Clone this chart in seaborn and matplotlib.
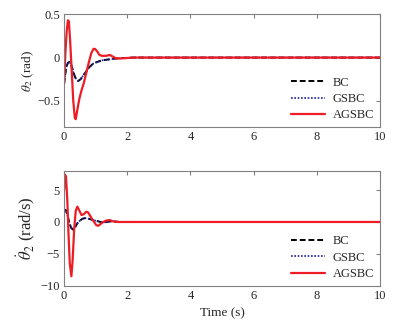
import matplotlib
matplotlib.use("Agg")
import matplotlib.pyplot as plt
import seaborn as sns
import numpy as np

# ---- data ----
t_bc1 = [0, 0.04, 0.08, 0.12, 0.17, 0.22, 0.28, 0.34, 0.40, 0.45, 0.52, 0.60, 0.70, 0.80, 0.92, 1.05, 1.23, 1.45, 1.65, 1.9, 2.2, 10]
th_bc = [-0.30, -0.18, -0.10, -0.06, -0.05, -0.08, -0.15, -0.22, -0.26, -0.27, -0.25, -0.21, -0.16, -0.11, -0.07, -0.05, -0.03, -0.02, -0.01, -0.005, 0.0, 0.0]

t_ag1 = [0, 0.04, 0.08, 0.12, 0.15, 0.19, 0.24, 0.29, 0.34, 0.37, 0.42, 0.48, 0.55, 0.62, 0.70, 0.78, 0.86, 0.93, 0.98, 1.05, 1.12, 1.20, 1.32, 1.45, 1.55, 1.65, 1.80, 2.0, 2.2, 10]
th_ag = [-0.30, 0.05, 0.30, 0.43, 0.42, 0.20, -0.15, -0.50, -0.70, -0.71, -0.60, -0.48, -0.38, -0.30, -0.18, -0.06, 0.05, 0.10, 0.10, 0.07, 0.03, 0.02, 0.02, 0.03, 0.01, -0.01, -0.01, -0.005, 0.0, 0.0]

t_bc2 = [0, 0.05, 0.10, 0.16, 0.22, 0.28, 0.34, 0.42, 0.50, 0.58, 0.66, 0.78, 0.92, 1.08, 1.23, 1.40, 1.55, 1.75, 10]
dth_bc = [1.8, 1.9, 1.2, 0.0, -0.9, -1.2, -0.9, -0.2, 0.2, 0.5, 0.6, 0.5, 0.3, 0.1, -0.1, 0.05, 0.1, 0.0, 0.0]

t_ag2 = [0, 0.03, 0.06, 0.10, 0.14, 0.18, 0.23, 0.27, 0.32, 0.37, 0.42, 0.48, 0.55, 0.62, 0.70, 0.76, 0.82, 0.88, 0.95, 1.02, 1.08, 1.16, 1.24, 1.32, 1.44, 1.55, 1.70, 10]
dth_ag = [5.0, 7.4, 7.0, 3.5, -2.0, -6.5, -8.5, -6.0, -1.0, 1.8, 2.4, 1.8, 1.1, 1.2, 1.6, 1.5, 1.0, 0.5, 0.0, -0.5, -0.6, -0.3, 0.0, 0.2, 0.3, 0.1, 0.0, 0.0]

labels = ["BC", "GSBC", "AGSBC"]
xticks = [0, 2, 4, 6, 8, 10]

# ---- style ----
sns.set_style("white")
plt.rcParams["font.family"] = ["Liberation Serif", "DejaVu Serif"]
plt.rcParams["mathtext.fontset"] = "stix"
plt.rcParams["font.size"] = 9

fig = plt.figure(figsize=(4.11, 3.23), dpi=100)
ax1 = fig.add_axes([0.156, 0.607, 0.768, 0.349])
ax2 = fig.add_axes([0.156, 0.115, 0.768, 0.356])

def draw(ax, tb, yb, ta, ya):
    sns.lineplot(x=tb, y=yb, ax=ax, color="black", linestyle=(0, (3, 1.5)), linewidth=1.4, label=labels[0], estimator=None)
    sns.lineplot(x=tb, y=yb, ax=ax, color="#1f1fa0", linestyle=(0, (1, 1)), linewidth=1.2, label=labels[1], estimator=None)
    sns.lineplot(x=ta, y=ya, ax=ax, color="#ee1c25", linewidth=1.6, label=labels[2], estimator=None)
    ax.set_xlim(0, 10)
    ax.set_xticks(xticks)
    ax.tick_params(direction="in", length=3, color="#808080", labelsize=9, top=True, right=True, pad=3)
    for s in ax.spines.values():
        s.set_color("#808080")
        s.set_linewidth(0.8)
    leg = ax.legend(loc="lower right", frameon=False, fontsize=9, handlelength=2.7,
                    borderaxespad=0.15, borderpad=0.3, labelspacing=0.35, handletextpad=0.6)
    return leg

draw(ax1, t_bc1, th_bc, t_ag1, th_ag)
ax1.set_ylim(-0.8, 0.5)
ax1.set_yticks([-0.5, 0, 0.5])
ax1.set_yticklabels(["\u22120.5", "0", "0.5"])
ax1.set_ylabel(r"$\theta_2$ (rad)", fontsize=9.5, labelpad=1)

draw(ax2, t_bc2, dth_bc, t_ag2, dth_ag)
ax2.set_ylim(-10, 8)
ax2.set_yticks([-10, -5, 0, 5])
ax2.set_yticklabels(["\u221210", "\u22125", "0", "5"])
ax2.set_ylabel(r"$\dot{\theta}_2$ (rad/s)", fontsize=12, labelpad=2)
ax2.set_xlabel("Time (s)", fontsize=9.5, labelpad=4)

fig.savefig("out.png", dpi=100)
